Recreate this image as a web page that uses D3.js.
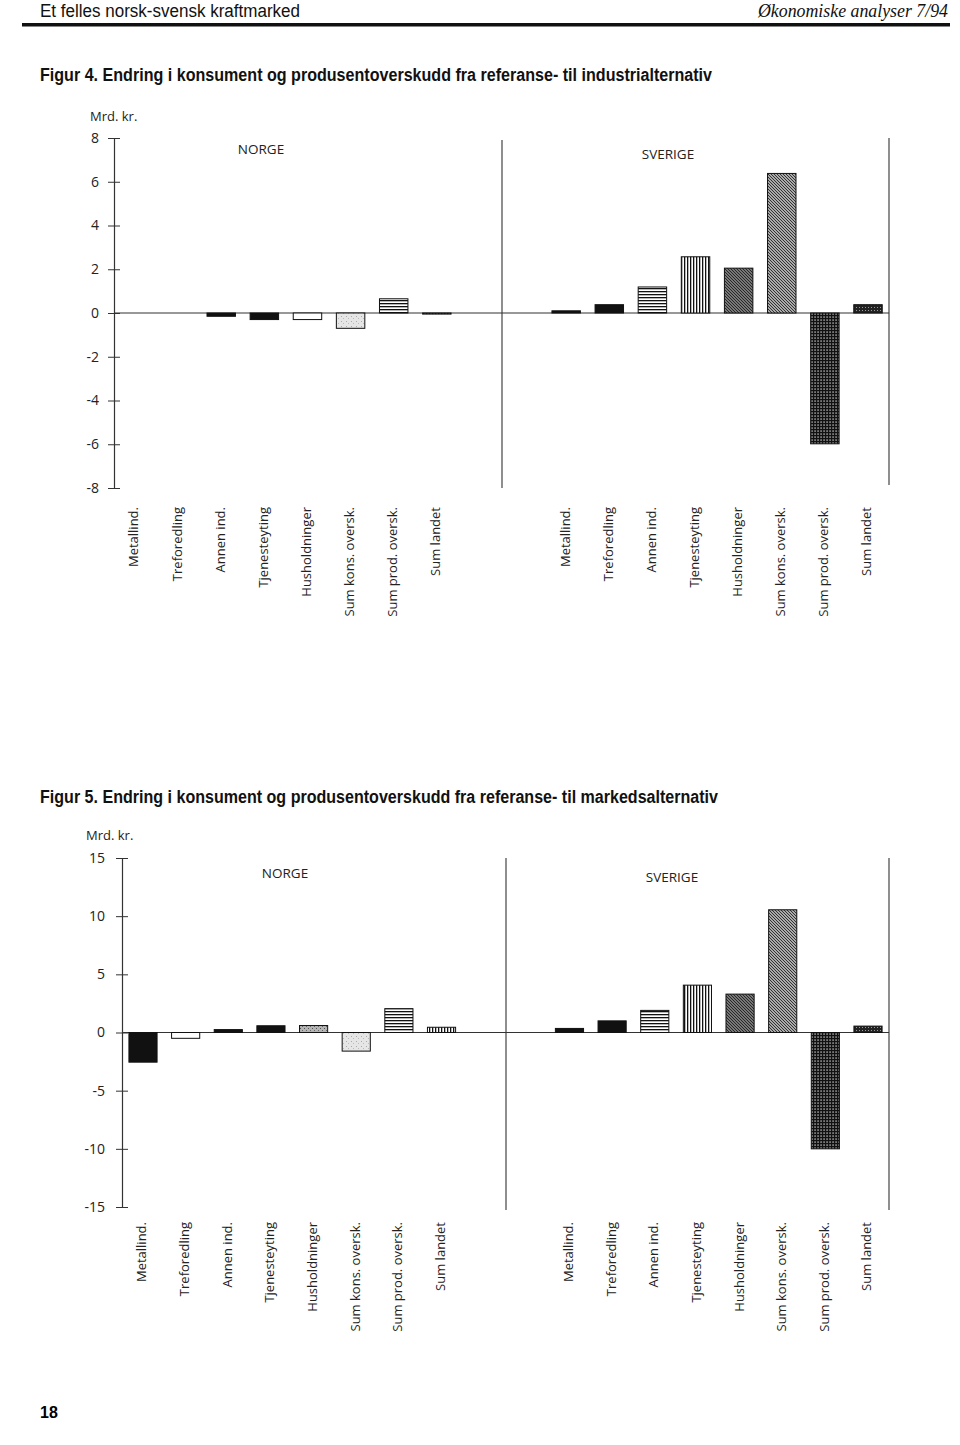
<!DOCTYPE html>
<html><head><meta charset="utf-8">
<script src="https://cdn.jsdelivr.net/npm/d3@7"></script>
<style>
html,body{margin:0;padding:0;background:#fff;}
svg{display:block;}
</style></head>
<body>
<script>
// ---- data ----
const categories = ["Metallind.", "Treforedling", "Annen ind.", "Tjenesteyting", "Husholdninger", "Sum kons. oversk.", "Sum prod. oversk.", "Sum landet"];
const countries = ["NORGE", "SVERIGE"];
const fig4Norge = [0, 0, -0.15, -0.3, -0.3, -0.7, 0.65, -0.05];
const fig4Sverige = [0.1, 0.38, 1.19, 2.57, 2.05, 6.38, -5.98, 0.38];
const fig5Norge = [-2.55, -0.5, 0.25, 0.58, 0.6, -1.6, 2.05, 0.45];
const fig5Sverige = [0.35, 1.0, 1.9, 4.07, 3.3, 10.55, -10.0, 0.55];
const fig4Ticks = [-8, -6, -4, -2, 0, 2, 4, 6, 8];
const fig5Ticks = [-15, -10, -5, 0, 5, 10, 15];
const fig4Title = "Figur 4. Endring i konsument og produsentoverskudd fra referanse- til industrialternativ";
const fig5Title = "Figur 5. Endring i konsument og produsentoverskudd fra referanse- til markedsalternativ";
const unitLabel = "Mrd. kr.";

// ---- styles (fills per bar) ----
const fig4NorgeFill = ["black","white","black","black","white","lightdots","hstripes","vstripes"];
const fig5NorgeFill = ["black","white","black","black","graydots","lightdots","hstripes","vstripes"];
const sverigeFill = ["black","black","hstripes","vstripes","diag1","diag2","grid","darkdots"];

const W = 960, H = 1445;
const svg = d3.select("body").append("svg").attr("width", W).attr("height", H);
const defs = svg.append("defs");

function pat(id, w, h, draw, bg) {
  const p = defs.append("pattern").attr("id", id).attr("patternUnits", "userSpaceOnUse")
    .attr("width", w).attr("height", h);
  p.append("rect").attr("width", w).attr("height", h).attr("fill", bg || "#fff");
  draw(p);
}
pat("hstripes", 4, 3, p => p.append("rect").attr("x",0).attr("y",0).attr("width",4).attr("height",1.3).attr("fill","#111"));
pat("vstripes", 3, 4, p => p.append("rect").attr("x",0).attr("y",0).attr("width",1.3).attr("height",4).attr("fill","#111"));
pat("diag1", 3, 3, p => p.append("path").attr("d","M0,0L3,3M-1,2L1,4M2,-1L4,1").attr("stroke","#222").attr("stroke-width",1.1), "#999");
pat("diag2", 3, 3, p => p.append("path").attr("d","M0,0L3,3M-1,2L1,4M2,-1L4,1").attr("stroke","#333").attr("stroke-width",1), "#aaa");
pat("grid", 3, 3, p => { p.append("rect").attr("width",3).attr("height",1.2).attr("fill","#111"); p.append("rect").attr("width",1.2).attr("height",3).attr("fill","#111"); }, "#777");
pat("darkdots", 3, 3, p => p.append("rect").attr("x",1).attr("y",1).attr("width",1).attr("height",1).attr("fill","#999"), "#222");
pat("graydots", 4, 4, p => { p.append("rect").attr("x",0).attr("y",0).attr("width",1).attr("height",1).attr("fill","#555"); p.append("rect").attr("x",2).attr("y",2).attr("width",1).attr("height",1).attr("fill","#666"); }, "#b5b5b5");
pat("lightdots", 5, 5, p => { p.append("rect").attr("x",1).attr("y",1).attr("width",1).attr("height",1).attr("fill","#aaa"); p.append("rect").attr("x",3).attr("y",3).attr("width",1).attr("height",1).attr("fill","#bbb"); }, "#e6e6e6");

function fillOf(k) {
  if (k === "black") return "#111";
  if (k === "white") return "#fff";
  return "url(#" + k + ")";
}

const font = "'Open Sans', 'Noto Sans', sans-serif";

// ---- header ----
svg.append("text").attr("x", 40).attr("y", 17).attr("font-family", "'Liberation Sans', Arial, sans-serif")
  .attr("font-size", 18).attr("textLength", 260).attr("lengthAdjust", "spacingAndGlyphs")
  .attr("fill", "#111").text("Et felles norsk-svensk kraftmarked");
svg.append("text").attr("x", 948).attr("y", 17).attr("text-anchor", "end")
  .attr("font-family", "'Liberation Serif', serif").attr("font-style", "italic")
  .attr("font-size", 19).attr("textLength", 190).attr("lengthAdjust", "spacingAndGlyphs")
  .attr("fill", "#111").text("Økonomiske analyser 7/94");
svg.append("rect").attr("x", 22).attr("y", 23).attr("width", 928).attr("height", 3.5).attr("fill", "#111");

svg.append("text").attr("x", 40).attr("y", 1418).attr("font-family", "'Liberation Sans', Arial, sans-serif")
  .attr("font-weight", "bold").attr("font-size", 16).attr("fill", "#000").text("18");

// ---- chart builder ----
function drawFigure(o) {
  const g = svg.append("g");
  g.append("text").attr("x", 40).attr("y", o.titleY).attr("font-family", "'Liberation Sans', Arial, sans-serif")
    .attr("font-weight", "bold").attr("font-size", 17.5).attr("textLength", o.titleLen)
    .attr("lengthAdjust", "spacingAndGlyphs").attr("fill", "#111").text(o.title);

  g.append("text").attr("x", o.unitX).attr("y", o.unitY).attr("font-family", font)
    .attr("font-size", 13).attr("fill", "#222").text(unitLabel);

  const y = d3.scaleLinear().domain([o.ticks[0], o.ticks[o.ticks.length - 1]]).range([o.yBottom, o.yTop]);

  // slot keys: Norge 0..7, two gap slots, Sverige
  const slots = categories.map(c => "N|" + c).concat(["gap1", "gap2"], categories.map(c => "S|" + c));
  const x = d3.scalePoint().domain(slots).range([o.firstCenter, o.lastCenter]);
  const bw = x.step() * 0.66;

  // frame lines
  g.append("line").attr("x1", o.divX).attr("x2", o.divX).attr("y1", o.divTop).attr("y2", o.divBottom)
    .attr("stroke", "#444").attr("stroke-width", 1.2);
  g.append("line").attr("x1", o.rightX).attr("x2", o.rightX).attr("y1", o.rightTop).attr("y2", o.rightBottom)
    .attr("stroke", "#444").attr("stroke-width", 1.2);

  // axis
  const axis = d3.axisLeft(y).tickValues(o.ticks).tickSizeInner(6).tickSizeOuter(0).tickPadding(o.pad)
    .tickFormat(d => String(d));
  const ag = g.append("g").attr("transform", `translate(${o.axisX},0)`).call(axis);
  ag.select(".domain").attr("stroke", "#333").attr("stroke-width", 1.2);
  ag.selectAll(".tick line").attr("x1", 6).attr("stroke", "#333");
  ag.selectAll(".tick text").attr("font-family", font).attr("font-size", 14).attr("fill", "#222");

  // zero line
  g.append("line").attr("x1", o.axisX).attr("x2", o.rightX).attr("y1", y(0)).attr("y2", y(0))
    .attr("stroke", "#333").attr("stroke-width", 1.1);

  const series = [
    { key: "N", vals: o.norge, fills: o.norgeFill },
    { key: "S", vals: o.sverige, fills: sverigeFill }
  ];
  series.forEach(s => {
    const data = categories.map((c, i) => ({ c, v: s.vals[i], f: s.fills[i] }));
    g.selectAll(null).data(data.filter(d => d.v !== 0)).join("rect")
      .attr("x", d => x(s.key + "|" + d.c) - bw / 2)
      .attr("width", bw)
      .attr("y", d => Math.min(y(d.v), y(0)))
      .attr("height", d => Math.max(1, Math.abs(y(d.v) - y(0))))
      .attr("fill", d => fillOf(d.f))
      .attr("stroke", "#111").attr("stroke-width", 1);
    g.selectAll(null).data(data).join("text")
      .attr("transform", d => `translate(${x(s.key + "|" + d.c)},${o.labelTop}) rotate(-90)`)
      .attr("text-anchor", "end").attr("dominant-baseline", "middle")
      .attr("font-family", font).attr("font-size", 13).attr("fill", "#222")
      .text(d => d.c);
  });

  g.append("text").attr("x", o.norgeX).attr("y", o.norgeY).attr("text-anchor", "middle")
    .attr("font-family", font).attr("font-size", 13.5).attr("fill", "#222").text(countries[0]);
  g.append("text").attr("x", o.sverigeX).attr("y", o.sverigeY).attr("text-anchor", "middle")
    .attr("font-family", font).attr("font-size", 13.5).attr("fill", "#222").text(countries[1]);
}

drawFigure({
  title: fig4Title, titleY: 81, titleLen: 672,
  unitX: 90, unitY: 121,
  ticks: fig4Ticks, yTop: 138, yBottom: 488, axisX: 114, pad: 9,
  firstCenter: 135, lastCenter: 868,
  divX: 502, divTop: 140, divBottom: 488, rightX: 889, rightTop: 138, rightBottom: 485,
  norge: fig4Norge, sverige: fig4Sverige, norgeFill: fig4NorgeFill,
  labelTop: 507, norgeX: 261, norgeY: 154, sverigeX: 668, sverigeY: 159
});

drawFigure({
  title: fig5Title, titleY: 803, titleLen: 678,
  unitX: 86, unitY: 840,
  ticks: fig5Ticks, yTop: 858, yBottom: 1207, axisX: 122, pad: 11,
  firstCenter: 143, lastCenter: 868,
  divX: 506, divTop: 858, divBottom: 1210, rightX: 889, rightTop: 858, rightBottom: 1210,
  norge: fig5Norge, sverige: fig5Sverige, norgeFill: fig5NorgeFill,
  labelTop: 1222, norgeX: 285, norgeY: 878, sverigeX: 672, sverigeY: 882
});
</script>
</body></html>
